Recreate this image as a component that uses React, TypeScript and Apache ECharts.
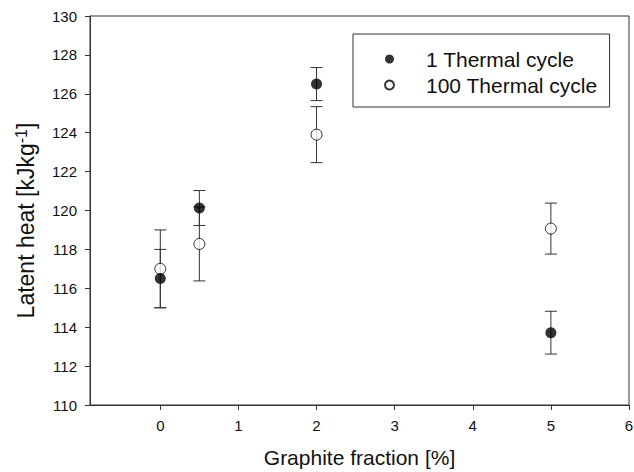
import React, { useEffect, useRef } from "react";
import * as echarts from "echarts";

const xValues = [0, 0.5, 2, 5];
const oneCycle = [116.5, 120.13, 126.5, 113.72];
const oneCycleErr = [1.5, 0.9, 0.85, 1.1];
const hundredCycle = [117.0, 118.28, 123.9, 119.07];
const hundredCycleErr = [2.0, 1.9, 1.44, 1.31];
const xTicks = [0, 1, 2, 3, 4, 5, 6];

const FONT = "Liberation Sans";
const LINE = "#333";

function errRender(params: any, api: any) {
  const x = api.value(0);
  const y = api.value(1);
  const e = api.value(2);
  const top = api.coord([x, y + e]);
  const bot = api.coord([x, y - e]);
  const hw = 6;
  const style = { stroke: LINE, lineWidth: 1 };
  return {
    type: "group",
    children: [
      { type: "line", shape: { x1: top[0], y1: top[1], x2: bot[0], y2: bot[1] }, style },
      { type: "line", shape: { x1: top[0] - hw, y1: top[1], x2: top[0] + hw, y2: top[1] }, style },
      { type: "line", shape: { x1: bot[0] - hw, y1: bot[1], x2: bot[0] + hw, y2: bot[1] }, style },
    ],
  };
}

export default function App() {
  const ref = useRef<HTMLDivElement>(null);
  useEffect(() => {
    if (!ref.current) return;
    const chart = echarts.init(ref.current, null, { renderer: "svg" });
    const oneData = xValues.map((x, i) => [x, oneCycle[i], oneCycleErr[i]]);
    const hundredData = xValues.map((x, i) => [x, hundredCycle[i], hundredCycleErr[i]]);
    chart.setOption({
      animation: false,
      backgroundColor: "#fff",
      textStyle: { fontFamily: FONT },
      grid: {
        left: 90,
        top: 16,
        right: 5,
        bottom: 67,
        outerBoundsMode: "none",
        containLabel: false,
        show: true,
        borderColor: LINE,
        borderWidth: 1,
      },
      legend: {
        left: 353,
        top: 34,
        orient: "vertical",
        data: [
          { name: "1 Thermal cycle", icon: "circle" },
          { name: "100 Thermal cycle", icon: "circle" },
        ],
        itemWidth: 9,
        itemHeight: 9,
        itemGap: 0,
        padding: [12, 12, 9, 31],
        borderColor: LINE,
        borderWidth: 1,
        textStyle: {
          fontFamily: FONT,
          fontSize: 21,
          color: "#111",
          lineHeight: 26,
          padding: [0, 0, 0, 27],
        },
      },
      xAxis: {
        type: "value",
        min: -0.9,
        max: 6,
        name: "Graphite fraction [%]",
        nameLocation: "middle",
        nameGap: 42,
        nameTextStyle: { fontFamily: FONT, fontSize: 21, color: "#111" },
        axisLine: { show: true, onZero: false, lineStyle: { color: LINE } },
        axisTick: { show: true, length: 5, lineStyle: { color: LINE }, customValues: xTicks },
        axisLabel: { fontFamily: FONT, fontSize: 15, color: "#111", margin: 13, customValues: xTicks },
        splitLine: { show: false },
      },
      yAxis: {
        type: "value",
        min: 110,
        max: 130,
        interval: 2,
        name: "Latent heat [kJkg{sup|-1}]",
        nameLocation: "middle",
        nameGap: 51,
        nameTextStyle: {
          fontFamily: FONT,
          fontSize: 23,
          color: "#111",
          padding: [0, 20, 0, 0],
          rich: {
            sup: { fontFamily: FONT, fontSize: 16, verticalAlign: "top", padding: [0, 0, 10, 0], color: "#111" },
          },
        },
        axisLine: { show: true, onZero: false, lineStyle: { color: LINE } },
        axisTick: { show: true, length: 5, lineStyle: { color: LINE } },
        axisLabel: { fontFamily: FONT, fontSize: 15, color: "#111", margin: 13 },
        splitLine: { show: false },
      },
      series: [
        {
          type: "custom",
          name: "err100",
          renderItem: errRender,
          data: hundredData,
          encode: { x: 0, y: 1 },
          z: 1,
          silent: true,
        },
        {
          type: "custom",
          name: "err1",
          renderItem: errRender,
          data: oneData,
          encode: { x: 0, y: 1 },
          z: 1,
          silent: true,
        },
        {
          type: "scatter",
          name: "100 Thermal cycle",
          data: hundredData.map((d) => [d[0], d[1]]),
          symbol: "circle",
          symbolSize: 11,
          itemStyle: { color: "#fff", borderColor: "#000", borderWidth: 1 },
          z: 3,
        },
        {
          type: "scatter",
          name: "1 Thermal cycle",
          data: oneData.map((d) => [d[0], d[1]]),
          symbol: "circle",
          symbolSize: 11,
          itemStyle: { color: "#000" },
          z: 4,
        },
      ],
    });
    return () => chart.dispose();
  }, []);
  return (
    <div
      ref={ref}
      style={{ position: "fixed", left: 0, top: 0, width: 634, height: 472 }}
    />
  );
}
